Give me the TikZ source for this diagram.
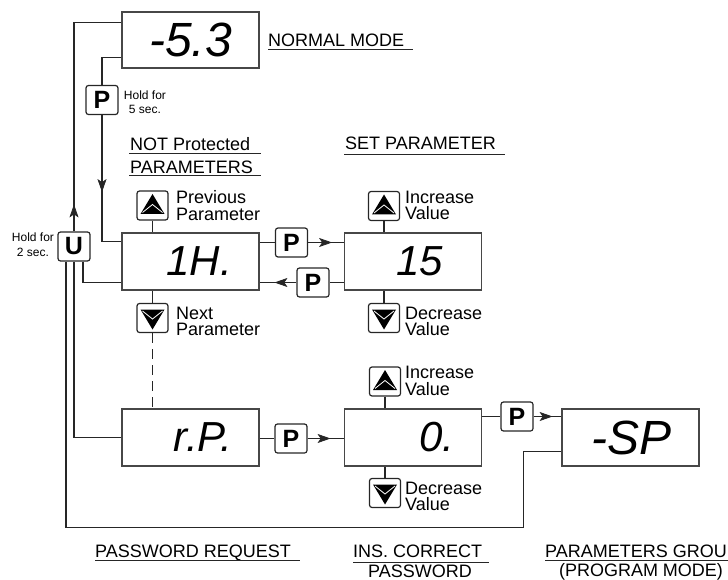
\documentclass[tikz,border=0pt]{standalone}
\usepackage{fontspec}
\setmainfont{Liberation Sans}
\usetikzlibrary{arrows.meta,decorations.markings,calc}
\begin{document}
\begin{tikzpicture}[x=1pt,y=-1pt,
  ln/.style={draw=black!85, line width=1.2pt},
  disp/.style={ln, draw=black!72, minimum height=57pt, inner xsep=6pt, inner ysep=0pt, text width=125pt, align=right, font=\itshape\fontsize{42}{42}\selectfont, execute at end node={\hspace*{21pt}}},
  bigdisp/.style={disp, minimum height=56pt, font=\itshape\fontsize{48}{48}\selectfont},
  btn/.style={ln, rounded corners=2.5pt, minimum width=32pt, minimum height=29pt, inner sep=0pt, font=\bfseries\fontsize{25}{25}\selectfont},
  abtn/.style={ln, rounded corners=2.5pt, minimum width=31pt, minimum height=29pt, inner sep=0pt},
  upbtn/.style={abtn, path picture={
      \fill[black, sharp corners] ($(path picture bounding box.center)+(0,-11.5)$) -- ++(12,20) -- ++(-24,0) -- cycle;
      \draw[white, line width=0.8pt, sharp corners] ($(path picture bounding box.center)+(-10,7)$) -- ++(10,-8) -- ++(10,8);}},
  dnbtn/.style={abtn, path picture={
      \fill[black, sharp corners] ($(path picture bounding box.center)+(0,11.5)$) -- ++(12,-20) -- ++(-24,0) -- cycle;
      \draw[white, line width=0.8pt, sharp corners] ($(path picture bounding box.center)+(-10,-7)$) -- ++(10,8) -- ++(10,-8);}},
  lbl/.style={font=\fontsize{18}{16.5}\selectfont, inner sep=0pt, align=left, anchor=west},
  ttl/.style={font=\fontsize{18}{20}\selectfont, inner sep=0pt, anchor=base west},
  uline/.style={draw=black!85, line width=1pt},
  hold/.style={font=\fontsize{12}{14}\selectfont, inner sep=0pt, align=center},
  tipat/.style={postaction={decorate}, decoration={markings, mark=at position #1 with {\arrow[line width=0.8pt]{Stealth[length=13pt,width=9pt,inset=3pt]}}}}
]
\useasboundingbox (0,0) rectangle (728,580);

% displays
\node[bigdisp] (d53) at (190.5,40) {-5.3};
\node[disp] (dIH) at (190.5,261.5) {1H.};
\node[disp] (d15) at (413,261.5) {15\phantom{.}};
\node[disp] (drP) at (190.5,437.5) {r.P.};
\node[disp] (d0)  at (413,437.5) {0.};
\node[bigdisp, minimum height=57pt] (dSP) at (630.5,437.5) {-SP};

% push buttons
\node[btn] (p5) at (102,100) {P};
\node[btn] (u)  at (74,246.5) {U};
\node[btn] (pa) at (291.5,242.5) {P};
\node[btn] (pb) at (313,282.5) {P};
\node[btn] (pc) at (291,438.5) {P};
\node[btn] (pd) at (517,416.5) {P};

% arrow buttons
\node[upbtn] (up1) at (152.5,205.5) {};
\node[dnbtn] (dn1) at (152.5,318) {};
\node[upbtn] (up2) at (384,206) {};
\node[dnbtn] (dn2) at (384,318) {};
\node[upbtn] (up3) at (385,381.5) {};
\node[dnbtn] (dn3) at (385,493) {};

% button labels
\node[lbl] (lprev) at (176,205.5) {Previous\\Parameter};
\node[lbl] (lnext) at (176,321.5) {Next\\Parameter};
\node[lbl] (linc1) at (405,205.5) {Increase\\Value};
\node[lbl] (ldec1) at (405,321.5) {Decrease\\Value};
\node[lbl] (linc2) at (405,381) {Increase\\Value};
\node[lbl] (ldec2) at (405,496.5) {Decrease\\Value};

\node[hold] (h5) at (145,102) {Hold for\\5 sec.};
\node[hold, font=\fontsize{12}{15}\selectfont] (h2) at (33,244.5) {Hold for\\2 sec.};

% connectors
\draw[ln] (p5.north) |- ([yshift=11pt]d53.south west);
\draw[ln, tipat=77pt] (p5.south) |- ([yshift=-9pt]dIH.north west);
\draw[ln, tipat=27pt] (u.north) |- ([yshift=-11pt]d53.north west);
\draw[ln] ([xshift=9pt]u.south) |- ([yshift=8pt]dIH.south west);
\draw[ln] (u.south) |- (drP.west);
\draw[ln] ([xshift=-8pt]u.south) |- ([xshift=-38pt,yshift=-61pt]dSP.south west) |- ([yshift=15pt]dSP.south west);

\draw[ln] (dIH.east |- pa) -- (pa);
\draw[ln, tipat=24pt] (pa) -- (d15.west |- pa);
\draw[ln] (d15.west |- pb) -- (pb);
\draw[ln, tipat=22pt] (pb) -- (dIH.east |- pb);
\draw[ln] (drP.east |- pc) -- (pc);
\draw[ln, tipat=23pt] (pc) -- (d0.west |- pc);
\draw[ln] (d0.east |- pd) -- (pd);
\draw[ln, tipat=19pt] (pd) -- (dSP.west |- pd);

\draw[ln] (up1) -- (up1 |- dIH.north);
\draw[ln] (dn1) -- (dn1 |- dIH.south);
\draw[ln, dash pattern=on 10pt off 6pt] (dn1) -- (dn1 |- drP.north);
\draw[ln] (up2) -- (up2 |- d15.north);
\draw[ln] (dn2) -- (dn2 |- d15.south);
\draw[ln] (up3) -- (up3 |- d0.north);
\draw[ln] (dn3) -- (dn3 |- d0.south);

% titles
\node[ttl] (tnm) at (268,46.7) {NORMAL MODE};
\draw[uline] ([yshift=-2.6pt]tnm.base west) -- ++(145,0);
\node[ttl] (tnp1) at (130,150.7) {NOT Protected};
\draw[uline] ([xshift=-1pt,yshift=-3.3pt]tnp1.base west) -- ++(132,0);
\node[ttl] (tnp2) at (130,173.3) {PARAMETERS};
\draw[uline] ([xshift=-1pt,yshift=-2.4pt]tnp2.base west) -- ++(132,0);
\node[ttl] (tsp) at (345,150) {SET PARAMETER};
\draw[uline] ([xshift=-1pt,yshift=-4.5pt]tsp.base west) -- ++(161,0);
\node[ttl] (tpr) at (95,557.3) {PASSWORD REQUEST};
\draw[uline] ([yshift=-2.7pt]tpr.base west) -- ++(205,0);
\node[ttl] (tic) at (353,557.7) {INS. CORRECT};
\draw[uline] ([yshift=-4.3pt]tic.base west) -- ++(136,0);
\node[ttl, anchor=base] (tpw) at (420,577.5) {PASSWORD};
\node[ttl] (tpg) at (545,557.3) {PARAMETERS GROUP};
\draw[uline] ([yshift=-3.4pt]tpg.base west) -- ++(200,0);
\node[ttl, anchor=base] (tpm) at (641,576.5) {(PROGRAM MODE)};
\end{tikzpicture}
\end{document}
